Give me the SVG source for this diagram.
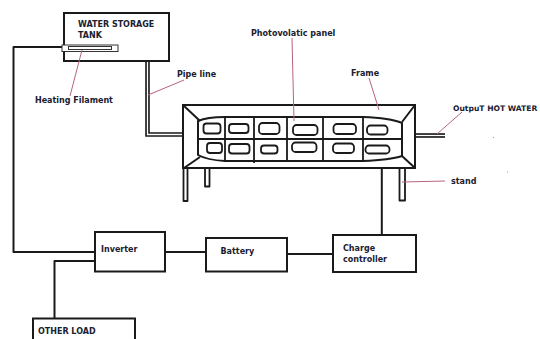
<svg xmlns="http://www.w3.org/2000/svg" width="540" height="339" viewBox="0 0 540 339">
<style>
.b{fill:#fff;stroke:#1a1a1a;stroke-width:2}
.n{fill:none;stroke:#1a1a1a;stroke-width:1.8;stroke-linejoin:round}
.w{fill:none;stroke:#1a1a1a;stroke-width:2;stroke-linejoin:round}
.c{fill:none;stroke:#1a1a1a;stroke-width:1.8}
.r{fill:none;stroke:#b8647a;stroke-width:1}
.t{font-family:"DejaVu Sans",sans-serif;font-size:8px;font-weight:700;fill:#1a2030}
.po{fill:none;stroke:#1a1a1a;stroke-width:4.6;stroke-linejoin:miter}
.pi{fill:none;stroke:#fff;stroke-width:1.3;stroke-linejoin:miter}
</style>
<rect width="540" height="339" fill="#fff"/>
<g id="connectors">
<path class="w" d="M62 47H13.500V252H95"/>
<path class="w" d="M96 261H54.500V319"/>
<path class="w" d="M165 252H206"/>
<path class="w" d="M285 254H333"/>
<path class="w" d="M381.800 168V235"/>
<path class="po" d="M147.500 61V134.500H184"/>
<path class="pi" d="M147.500 61V134.500H184"/>
<path class="po" d="M415 135.500H445"/>
<path class="pi" d="M415 135.500H445"/>
</g>
<g id="tank">
<rect class="b" x="64" y="13" width="105" height="48"/>
<rect x="62" y="45" width="56" height="6.500" fill="#fff" stroke="#333" stroke-width="1"/>
<rect x="68.500" y="46.500" width="43" height="3" fill="#fff" stroke="#333" stroke-width="1"/>
<text class="t"><tspan x="78" y="27">WATER STORAGE</tspan><tspan x="78" y="38">TANK</tspan></text>
</g>
<g id="stands">
<rect class="n" x="183.500" y="168" width="4" height="33"/>
<rect class="n" x="205" y="168" width="4.500" height="18.500"/>
<rect class="n" x="399.500" y="167" width="5.500" height="33.500"/>
</g>
<g id="panel">
<rect class="b" x="183" y="105" width="232" height="63" stroke-width="2"/>
<path class="w" d="M183 105L200 121M415 105L402 122M184 168L200 157M415 168L402 156"/>
<path class="w" d="M198 121Q207 117 225 117H363Q390 118 402 123V156Q390 160 363 161H225Q207 160 198 155Z"/>
<path class="n" d="M198 139H402M225 116V162M254 118V163M287 117V162M323 117V161M363 116V162"/>
<g class="c">
<rect class="c" x="203.500" y="123.500" width="17" height="10" rx="3"/>
<rect class="c" x="229" y="124" width="19.500" height="9" rx="3"/>
<rect class="c" x="259" y="123" width="20.500" height="11" rx="3.500"/>
<rect class="c" x="293" y="125" width="24.500" height="10" rx="3.500"/>
<rect class="c" x="333.500" y="124" width="22.500" height="10" rx="3.500"/>
<rect class="c" x="367" y="125.500" width="20.500" height="9" rx="3.500"/>
<rect class="c" x="207" y="143" width="15" height="10" rx="3"/>
<rect class="c" x="229" y="144" width="20.500" height="9.500" rx="3"/>
<rect class="c" x="261" y="145.500" width="16.500" height="8" rx="3"/>
<rect class="c" x="292" y="142.500" width="24.500" height="9.500" rx="3.500"/>
<rect class="c" x="333" y="143.500" width="21" height="9.500" rx="3.500"/>
<rect class="c" x="365.500" y="145.500" width="24" height="8" rx="3.500"/>
</g>
</g>
<g id="inverter">
<rect class="b" x="95" y="232" width="70" height="39.500"/>
<text class="t" x="101" y="252">Inverter</text>
</g>
<g id="battery">
<rect class="b" x="206" y="238" width="81" height="33.500"/>
<text class="t" x="220.500" y="254">Battery</text>
</g>
<g id="controller">
<rect class="b" x="333" y="235" width="83" height="37"/>
<text class="t"><tspan x="343" y="251">Charge</tspan><tspan x="343" y="262">controller</tspan></text>
</g>
<g id="load">
<rect class="b" x="33" y="318.500" width="102" height="30"/>
<text class="t" x="38" y="334">OTHER LOAD</text>
</g>
<g id="labels">
<path class="r" d="M82 50L70 96M184 80L148 95M292 38L294 121M369 78L379 110M462 112L437 134M445 181L402 182"/>
<text class="t" x="35" y="103">Heating Filament</text>
<text class="t" x="177" y="77">Pipe line</text>
<text class="t" x="251" y="36">Photovolatic panel</text>
<text class="t" x="351" y="76">Frame</text>
<text class="t" x="453" y="111" style="font-size:7.6px">OutpuT HOT WATER</text>
<text class="t" x="451" y="184">stand</text>
<rect x="493" y="137" width="1" height="1" fill="#c98a9a"/>
<rect x="507" y="171.500" width="1" height="1" fill="#c98a9a"/>
</g>
</svg>
